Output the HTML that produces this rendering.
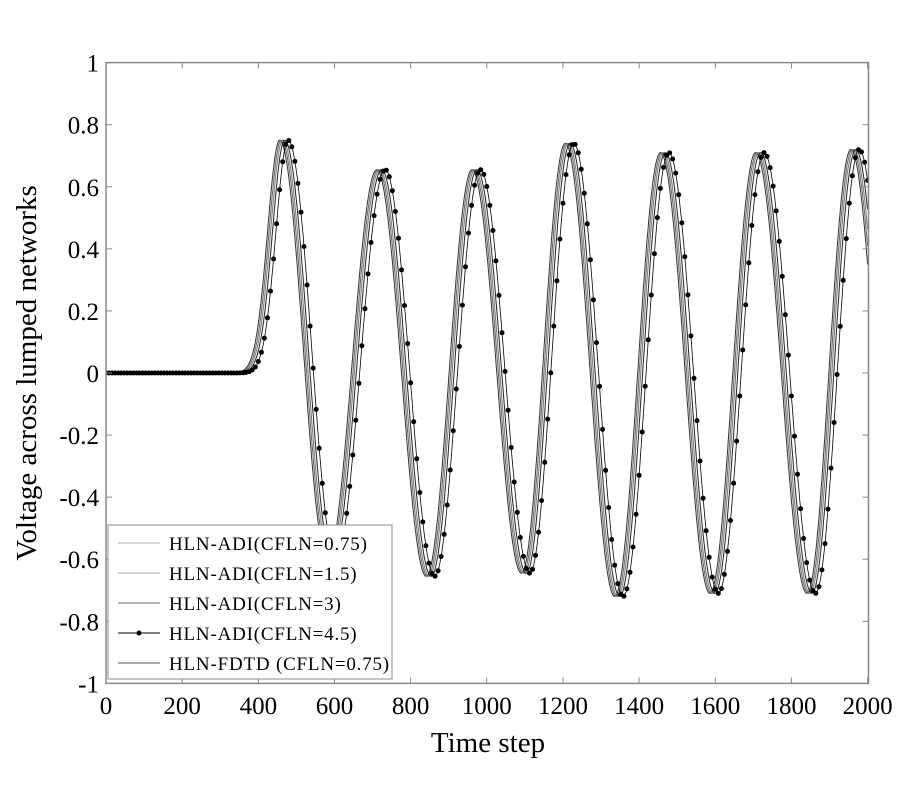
<!DOCTYPE html>
<html><head><meta charset="utf-8"><style>
body{margin:0;background:#fff;width:900px;height:800px;overflow:hidden}
</style></head><body>
<svg id="s" width="900" height="800" xmlns="http://www.w3.org/2000/svg" font-family="Liberation Serif, serif"></svg>
<script>
const s=document.getElementById('s');
const X0=106,XS=0.3808,Y0=373,YS=310.4,T=62.6,B=683.4,L=106,R=868.5;
const px=t=>X0+t*XS, py=v=>Y0-v*YS;
let h='';
const ext=[[460,0.75],[585,-0.6],[715,0.655],[845,-0.655],[965,0.655],[1095,-0.645],[1210,0.74],[1340,-0.72],[1460,0.71],[1590,-0.71],[1710,0.71],[1845,-0.71],[1960,0.72],[2090,-0.72],[2210,0.72]];
function f(t){
 if(t<460) return 0.75*Math.exp(-Math.pow((t-460)/45,2));
 for(let i=0;i<ext.length-1;i++){const[a,va]=ext[i],[b,vb]=ext[i+1];
  if(t<=b){const c=Math.cos(Math.PI*(t-a)/(b-a));return va*(1+c)/2+vb*(1-c)/2;}}
 return 0;
}
function path(sh){let d='';for(let t=0;t<=2000;t+=2){d+=(t?'L':'M')+px(t).toFixed(1)+','+py(f(t-sh)).toFixed(1);}return d;}
h+=`<defs><clipPath id="c"><rect x="${L}" y="${T}" width="${R-L}" height="${B-T}"/></clipPath></defs>`;
h+=`<g clip-path="url(#c)" fill="none" stroke-width="1">`;
h+=`<path d="${path(-4)}" stroke="#333"/>`;
h+=`<path d="${path(0)}" stroke="#666"/>`;
h+=`<path d="${path(4)}" stroke="#777"/>`;
h+=`<path d="${path(9)}" stroke="#222"/>`;
h+=`<path d="${path(18)}" stroke="#000" stroke-width="0.8"/>`;
for(let t=0;t<=2000;t+=8){h+=`<circle cx="${px(t).toFixed(1)}" cy="${py(f(t-18)).toFixed(1)}" r="2.5" fill="#000" stroke="none"/>`;}
h+=`</g>`;
h+=`<rect x="${L}" y="${T}" width="${R-L}" height="${B-T}" fill="none" stroke="#888" stroke-width="1.5"/>`;
for(let t=0;t<=2000;t+=200){const x=px(t);
 h+=`<line x1="${x}" y1="${B}" x2="${x}" y2="${B-6}" stroke="#888"/><line x1="${x}" y1="${T}" x2="${x}" y2="${T+6}" stroke="#888"/>`;
 h+=`<text x="${x}" y="714" font-size="25" text-anchor="middle">${t}</text>`;}
for(let i=0;i<=10;i++){const v=1-i*0.2,y=py(v);const lab=Math.abs(v)<1e-9?'0':(+v.toFixed(1)).toString();
 h+=`<line x1="${L}" y1="${y}" x2="${L+6}" y2="${y}" stroke="#888"/><line x1="${R}" y1="${y}" x2="${R-6}" y2="${y}" stroke="#888"/>`;
 h+=`<text x="99" y="${y+9}" font-size="25" text-anchor="end">${lab}</text>`;}
h+=`<text x="488" y="752" font-size="29" text-anchor="middle">Time step</text>`;
h+=`<text transform="translate(36,373) rotate(-90)" font-size="29" text-anchor="middle">Voltage across lumped networks</text>`;
h+=`<rect x="108" y="525" width="284" height="154" fill="#fff" stroke="#888" stroke-width="1"/>`;
const lg=[['HLN-ADI(CFLN=0.75)','#aaa',0],['HLN-ADI(CFLN=1.5)','#aaa',0],['HLN-ADI(CFLN=3)','#666',0],['HLN-ADI(CFLN=4.5)','#000',1],['HLN-FDTD (CFLN=0.75)','#555',0]];
lg.forEach((e,i)=>{const y=543+i*30;
 h+=`<line x1="118" y1="${y}" x2="160" y2="${y}" stroke="${e[1]}"/>`;
 if(e[2])h+=`<circle cx="139" cy="${y}" r="2.5" fill="#000"/>`;
 h+=`<text x="169" y="${y+7}" font-size="19" letter-spacing="0.8">${e[0]}</text>`;});
s.innerHTML=h;
</script>
</body></html>
